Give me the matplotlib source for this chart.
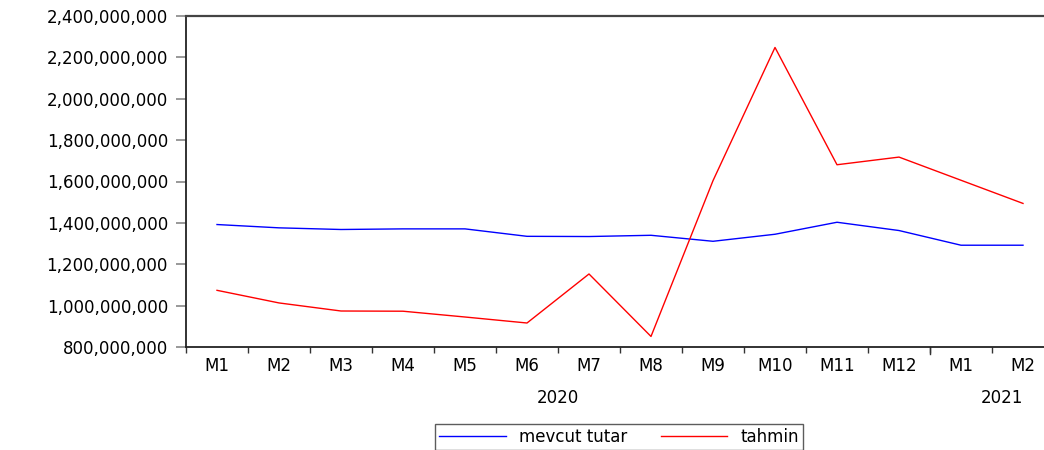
import matplotlib.pyplot as plt
from matplotlib.ticker import FuncFormatter, FixedLocator
import matplotlib.transforms as mtransforms

# veriler (aylik)
aylar = ['M1', 'M2', 'M3', 'M4', 'M5', 'M6', 'M7', 'M8', 'M9', 'M10', 'M11', 'M12', 'M1', 'M2']
yillar = ['2020', '2021']

mevcut_tutar = [1.392e9, 1.376e9, 1.368e9, 1.371e9, 1.371e9, 1.335e9, 1.334e9,
                1.340e9, 1.311e9, 1.345e9, 1.403e9, 1.363e9, 1.292e9, 1.292e9]
tahmin = [1.074e9, 1.013e9, 0.974e9, 0.973e9, 0.945e9, 0.916e9, 1.153e9,
          0.851e9, 1.604e9, 2.248e9, 1.681e9, 1.718e9, 1.606e9, 1.494e9]

plt.rcParams['font.family'] = ['DejaVu Sans']

fig = plt.figure(figsize=(10.44, 4.5), dpi=100)
ax = fig.add_axes([186/1044, 1 - 347/450, 868/1044, 331/450])

x = list(range(len(aylar)))
ax.plot(x, mevcut_tutar, color='#0000ff', lw=1.0, label='mevcut tutar')
ax.plot(x, tahmin, color='#ff0000', lw=1.0, label='tahmin')

ax.set_xlim(-0.5, len(aylar) - 0.5)
ax.set_ylim(8e8, 2.4e9)
ax.set_yticks([8e8 + 2e8 * i for i in range(9)])
ax.yaxis.set_major_formatter(FuncFormatter(lambda v, p: '{:,.0f}'.format(v)))
ax.tick_params(axis='y', direction='out', length=7, width=1.2, color='#888888',
               labelsize=12, pad=6)

# ay etiketleri ortada, tik cizgileri aralarda
ax.xaxis.set_major_locator(FixedLocator([i - 0.5 for i in range(len(aylar) + 1)]))
ax.xaxis.set_minor_locator(FixedLocator(x))
ax.set_xticklabels([])
ax.set_xticklabels(aylar, minor=True)
ax.tick_params(axis='x', which='major', direction='out', length=4, width=1, color='#333333')
ax.tick_params(axis='x', which='minor', length=0, labelsize=12, pad=7)
# yil sinirinda uzun tik
ax.plot([11.5, 11.5], [0, -0.022], transform=ax.get_xaxis_transform(),
        color='#333333', lw=1, clip_on=False)

trans = mtransforms.blended_transform_factory(ax.transData, ax.transAxes)
ax.text(5.5, -0.155, yillar[0], transform=trans, ha='center', va='center', fontsize=12)
ax.text(12.66, -0.155, yillar[1], transform=trans, ha='center', va='center', fontsize=12)

for s in ['left', 'bottom']:
    ax.spines[s].set_linewidth(1.3)
    ax.spines[s].set_color('#222222')
ax.spines['top'].set_linewidth(1.6)
ax.spines['top'].set_color('#444444')
ax.spines['right'].set_visible(False)

leg = fig.legend(loc='center', bbox_to_anchor=(619/1044, 1 - 437/450), ncol=2,
                 fontsize=12, frameon=True, fancybox=False, handlelength=4.0,
                 borderpad=0.25, columnspacing=2.0, handletextpad=0.8)
leg.get_frame().set_edgecolor('#333333')
leg.get_frame().set_linewidth(1.0)

fig.savefig('out.png', dpi=100)
